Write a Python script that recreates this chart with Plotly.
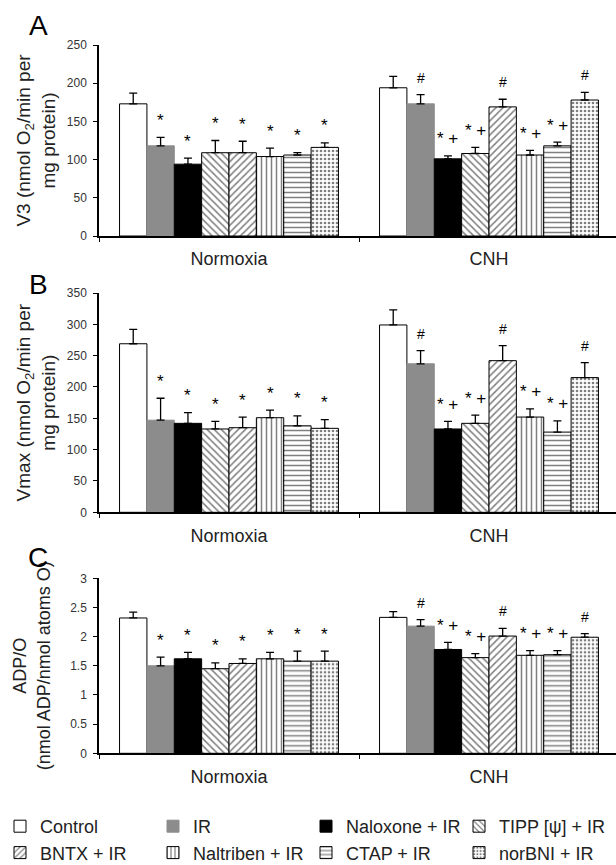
import plotly.graph_objects as go

groups = ["Normoxia", "CNH"]
treatments = ["Control", "IR", "Naloxone + IR", "TIPP [ψ] + IR",
              "BNTX + IR", "Naltriben + IR", "CTAP + IR", "norBNI + IR"]

# Panel A: V3
v3_norm = [173, 118, 94, 109, 109, 104, 106, 116]
v3_norm_err = [14, 11, 8, 16, 15, 11, 3, 6]
v3_cnh = [194, 173, 101, 108, 169, 106, 118, 178]
v3_cnh_err = [15, 12, 4, 8, 10, 6, 5, 10]

# Panel B: Vmax
vmax_norm = [269, 147, 142, 133, 135, 151, 138, 134]
vmax_norm_err = [23, 35, 17, 12, 17, 12, 16, 14]
vmax_cnh = [299, 237, 133, 142, 242, 152, 128, 215]
vmax_cnh_err = [24, 21, 12, 13, 24, 13, 18, 24]

# Panel C: ADP/O
adp_norm = [2.32, 1.50, 1.62, 1.45, 1.54, 1.62, 1.58, 1.58]
adp_norm_err = [0.10, 0.15, 0.11, 0.10, 0.08, 0.11, 0.17, 0.17]
adp_cnh = [2.33, 2.18, 1.78, 1.64, 2.01, 1.68, 1.69, 1.99]
adp_cnh_err = [0.10, 0.11, 0.12, 0.07, 0.13, 0.08, 0.07, 0.06]

sig_norm = ["", "*", "*", "*", "*", "*", "*", "*"]
sig_cnh = ["", "#", "* +", "* +", "#", "* +", "* +", "#"]

y_ticks_a = [0, 50, 100, 150, 200, 250]
y_ticks_b = [0, 50, 100, 150, 200, 250, 300, 350]
y_ticks_c = [0, 0.5, 1, 1.5, 2, 2.5, 3]

FONT = "Liberation Sans, Arial, Helvetica, sans-serif"
W, H = 616, 865
MB = 60                 # bottom margin holding the legend
PH = H - MB             # plot-area height

styles = [
    dict(color="white", line=dict(color="black", width=1)),
    dict(color="#8c8c8c", line=dict(color="#8c8c8c", width=1)),
    dict(color="black", line=dict(color="black", width=1)),
    dict(color="white", line=dict(color="black", width=1),
         pattern=dict(shape="\\", size=5, solidity=0.3, fgcolor="black", bgcolor="white")),
    dict(color="white", line=dict(color="black", width=1),
         pattern=dict(shape="/", size=5, solidity=0.3, fgcolor="black", bgcolor="white")),
    dict(color="white", line=dict(color="black", width=1),
         pattern=dict(shape="|", size=5, solidity=0.3, fgcolor="black", bgcolor="white")),
    dict(color="white", line=dict(color="black", width=1),
         pattern=dict(shape="-", size=5, solidity=0.3, fgcolor="black", bgcolor="white")),
    dict(color="white", line=dict(color="black", width=1),
         pattern=dict(shape=".", size=4, solidity=0.35, fgcolor="black", bgcolor="white")),
]

panels = [
    dict(norm=v3_norm, norm_err=v3_norm_err, cnh=v3_cnh, cnh_err=v3_cnh_err,
         ticks=y_ticks_a, title="V3 (nmol O<sub>2</sub>/min per<br>mg protein)",
         px=(45, 236), letter="A", letter_y=26, standoff=6, tsize=19),
    dict(norm=vmax_norm, norm_err=vmax_norm_err, cnh=vmax_cnh, cnh_err=vmax_cnh_err,
         ticks=y_ticks_b, title="Vmax (nmol O<sub>2</sub>/min per<br>mg protein)",
         px=(293, 512.3), letter="B", letter_y=284, standoff=6, tsize=19),
    dict(norm=adp_norm, norm_err=adp_norm_err, cnh=adp_cnh, cnh_err=adp_cnh_err,
         ticks=y_ticks_c, title="ADP/O<br>(nmol ADP/nmol atoms O)",
         px=(578.3, 753.3), letter="C", letter_y=557, standoff=15, tsize=18),
]

BARGAP = 0.158
x_left_px = 99
cat_px = 260
x_range = [-0.5, -0.5 + (W - x_left_px) / cat_px]

fig = go.Figure()
annotations = []
layout = {}
nT = len(treatments)
bw = (1 - BARGAP) / nT

for p, pan in enumerate(panels):
    sfx = "" if p == 0 else str(p + 1)
    xa, ya = "x" + sfx, "y" + sfx
    for k, name in enumerate(treatments):
        fig.add_trace(go.Bar(
            x=groups, y=[pan["norm"][k], pan["cnh"][k]],
            name=name, showlegend=(p == 0),
            marker=styles[k], xaxis=xa, yaxis=ya,
            error_y=dict(type="data", symmetric=False,
                         array=[pan["norm_err"][k], pan["cnh_err"][k]],
                         arrayminus=[0, 0], color="black", thickness=1.3, width=4),
        ))
        offset = -0.5 * (1 - BARGAP) + (k + 0.5) * bw
        for g, (labels, vals, errs) in enumerate([
                (sig_norm, pan["norm"], pan["norm_err"]),
                (sig_cnh, pan["cnh"], pan["cnh_err"])]):
            txt = labels[k]
            if txt:
                annotations.append(dict(
                    x=g + offset, y=vals[k] + errs[k], xref=xa, yref=ya,
                    text=txt, showarrow=False, yanchor="middle", yshift=17,
                    font=dict(family=FONT, size=17 if "*" in txt else 14, color="black")))
    top, bot = pan["px"]
    layout["xaxis" + sfx] = dict(
        domain=[x_left_px / W, 1], anchor=ya, type="category", range=x_range,
        showline=True, linecolor="black", linewidth=1.5, ticks="outside",
        tickson="boundaries", ticklen=4, tickcolor="black", tickwidth=1.2,
        tickfont=dict(family=FONT, size=18, color="#222"), ticklabelstandoff=6,
        showgrid=False, zeroline=False, fixedrange=True)
    layout["yaxis" + sfx] = dict(
        domain=[(PH - bot) / PH, (PH - top) / PH], anchor=xa,
        range=[pan["ticks"][0], pan["ticks"][-1]], tickvals=pan["ticks"],
        showline=True, linecolor="black", linewidth=1.5, ticks="outside",
        ticklen=4, tickcolor="black", tickwidth=1.2,
        tickfont=dict(family=FONT, size=12, color="#333"), ticklabelstandoff=4,
        showgrid=False, zeroline=False, fixedrange=True,
        title=dict(text=pan["title"], font=dict(family=FONT, size=pan["tsize"], color="#222"),
                   standoff=pan["standoff"]))
    annotations.append(dict(
        x=38 / W, y=(PH - pan["letter_y"]) / PH, xref="paper", yref="paper",
        text=pan["letter"], showarrow=False, xanchor="center", yanchor="middle",
        font=dict(family=FONT, size=28, color="black")))

fig.update_layout(
    **layout,
    width=W, height=H, autosize=False,
    margin=dict(l=0, r=0, t=0, b=MB, autoexpand=False),
    paper_bgcolor="white", plot_bgcolor="white",
    barmode="group", bargap=BARGAP, bargroupgap=0,
    font=dict(family=FONT, color="#222"),
    annotations=annotations,
    legend=dict(orientation="h", x=0, xanchor="left",
                y=-(808 - PH) / PH, yanchor="top",
                entrywidth=108, font=dict(family=FONT, size=18, color="#222"),
                bgcolor="rgba(0,0,0,0)", itemclick=False, itemdoubleclick=False),
)

fig.write_html("out.html",
               config={"displayModeBar": False},
               post_script="document.body.style.margin='0';"
                           "document.documentElement.style.overflow='hidden';")
